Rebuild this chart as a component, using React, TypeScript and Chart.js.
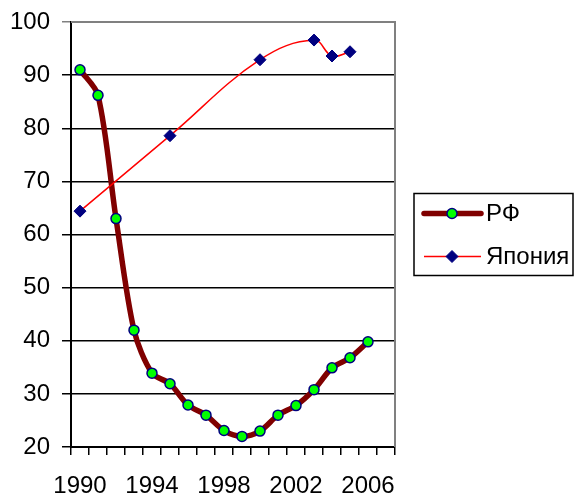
import React, { useEffect, useRef } from "react";
import { Chart, registerables } from "chart.js";

Chart.register(...registerables);

const years = ["1990","1991","1992","1993","1994","1995","1996","1997","1998","1999","2000","2001","2002","2003","2004","2005","2006","2007"];
const rfValues = [91.0, 86.2, 63.0, 42.0, 33.9, 31.9, 27.9, 26.0, 23.1, 22.0, 23.0, 26.0, 27.8, 30.8, 34.9, 36.8, 39.8, null];
const japanValues = [64.4, null, null, null, null, 78.6, null, null, null, null, 92.9, null, null, 96.6, 93.6, 94.4, null, null];
const seriesNames = ["РФ", "Япония"];
const yTicks = { min: 20, max: 100, step: 10 };
const FONT = '"Liberation Sans", Arial, sans-serif';

const frameAndLegend = {
  id: "frameAndLegend",
  afterDraw(chart: any) {
    const ctx = chart.ctx;
    const a = chart.chartArea;
    ctx.save();
    ctx.strokeStyle = "#808080";
    ctx.lineWidth = 2;
    ctx.beginPath();
    ctx.moveTo(a.left, a.top);
    ctx.lineTo(a.right, a.top);
    ctx.lineTo(a.right, a.bottom);
    ctx.stroke();

    const cy = (a.top + a.bottom) / 2;
    const bx = a.right + 19;
    const bw = 159;
    const bh = 82;
    const by = cy - bh / 2;
    ctx.strokeStyle = "#000";
    ctx.lineWidth = 1.5;
    ctx.strokeRect(bx, by, bw, bh);
    const rows = [by + 20, by + 63];
    const ds = chart.data.datasets;
    ctx.font = `24px ${FONT}`;
    ctx.textBaseline = "middle";
    rows.forEach((ry: number, i: number) => {
      const d = ds[i];
      ctx.strokeStyle = d.borderColor;
      ctx.lineWidth = d.borderWidth;
      ctx.lineCap = i === 0 ? "round" : "butt";
      ctx.beginPath();
      ctx.moveTo(bx + 10, ry);
      ctx.lineTo(bx + 67, ry);
      ctx.stroke();
      const mx = bx + 38;
      ctx.fillStyle = d.pointBackgroundColor;
      ctx.strokeStyle = d.pointBorderColor;
      ctx.lineWidth = d.pointBorderWidth;
      ctx.beginPath();
      if (d.pointStyle === "rectRot") {
        const r = d.pointRadius;
        ctx.moveTo(mx - r, ry);
        ctx.lineTo(mx, ry - r);
        ctx.lineTo(mx + r, ry);
        ctx.lineTo(mx, ry + r);
        ctx.closePath();
      } else {
        ctx.arc(mx, ry, d.pointRadius, 0, Math.PI * 2);
      }
      ctx.fill();
      ctx.stroke();
      ctx.fillStyle = "#000";
      ctx.fillText(d.label, bx + 72, ry + 1);
    });
    ctx.restore();
  },
};

export default function App() {
  const ref = useRef<HTMLCanvasElement | null>(null);
  useEffect(() => {
    if (!ref.current) return;
    const chart = new Chart(ref.current, {
      type: "line",
      data: {
        labels: years,
        datasets: [
          {
            label: seriesNames[0],
            data: rfValues,
            borderColor: "#800000",
            borderWidth: 5.5,
            pointStyle: "circle",
            pointRadius: 5,
            pointBackgroundColor: "#00FF00",
            pointBorderColor: "#000080",
            pointBorderWidth: 1.5,
            tension: 0.3,
            order: 2,
          },
          {
            label: seriesNames[1],
            data: japanValues,
            borderColor: "#FF0000",
            borderWidth: 1.5,
            pointStyle: "rectRot",
            pointRadius: 6,
            pointBackgroundColor: "#000080",
            pointBorderColor: "#000080",
            pointBorderWidth: 1,
            tension: 0.4,
            spanGaps: true,
            order: 1,
          },
        ],
      } as any,
      options: {
        animation: false,
        responsive: true,
        maintainAspectRatio: false,
        layout: { padding: { top: 22, right: 180, left: 0, bottom: 0 } },
        plugins: { legend: { display: false }, tooltip: { enabled: false } },
        scales: {
          x: {
            type: "category",
            offset: true,
            afterFit: (s: any) => { s.height = 49; s.paddingLeft = 0; s.paddingRight = 0; },
            grid: {
              offset: true,
              drawOnChartArea: false,
              tickLength: 8,
              color: "#000",
              lineWidth: 1.5,
            },
            border: { display: true, color: "#000", width: 2 },
            ticks: {
              autoSkip: false,
              maxRotation: 0,
              minRotation: 0,
              padding: 17,
              color: "#000",
              font: { family: FONT, size: 24 },
              callback: (_v: any, i: number) => (i % 4 === 0 ? years[i] : ""),
            },
          },
          y: {
            min: yTicks.min,
            max: yTicks.max,
            afterFit: (s: any) => { s.width = 71; s.paddingTop = 0; s.paddingBottom = 0; },
            grid: {
              color: (c: any) => (c.tick && c.tick.value === 100 ? "#808080" : "#000"),
              lineWidth: 1.5,
              tickLength: 9,
            },
            border: { display: true, color: "#000", width: 2 },
            ticks: {
              stepSize: yTicks.step,
              padding: 12,
              color: "#000",
              font: { family: FONT, size: 24 },
            },
          },
        },
      },
      plugins: [frameAndLegend],
    });
    return () => chart.destroy();
  }, []);
  return (
    <div style={{ position: "absolute", left: 0, top: 0, width: 575, height: 496, background: "#fff" }}>
      <canvas ref={ref} />
    </div>
  );
}
